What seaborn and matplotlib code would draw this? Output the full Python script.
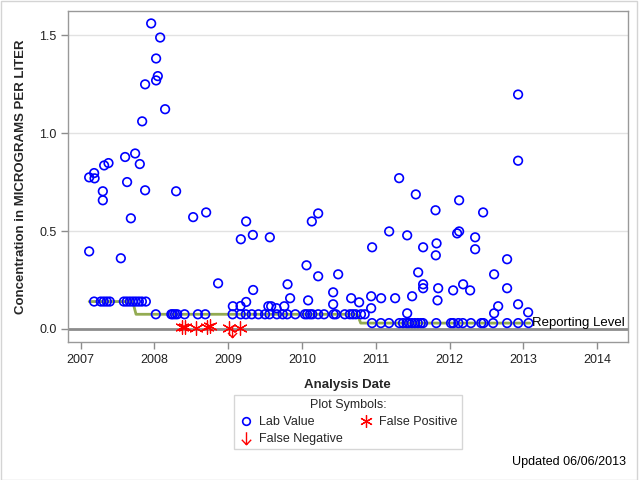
import numpy as np
import pandas as pd
import matplotlib
matplotlib.use("Agg")
import matplotlib.pyplot as plt
import seaborn as sns
from matplotlib.lines import Line2D
from matplotlib.patches import Rectangle
from matplotlib.path import Path

# detected lab values (decimal year, ug/L)
lab_dates = [2007.957, 2008.079, 2008.024, 2008.047, 2008.024, 2007.875, 2008.146, 2007.835,
             2007.740, 2007.604, 2007.803, 2007.379, 2007.320, 2007.184, 2007.117, 2007.190,
             2007.631, 2007.302, 2007.875, 2008.295, 2007.302, 2007.682, 2008.526, 2008.702,
             2009.244, 2009.335, 2009.172, 2007.117, 2007.546, 2008.864, 2009.339, 2009.244,
             2009.168, 2009.064,
             2009.565, 2010.134, 2010.220, 2011.317, 2011.543, 2011.810, 2011.182, 2011.426,
             2011.642, 2010.951, 2011.824, 2011.814, 2009.805, 2009.840, 2010.062, 2010.220,
             2010.491, 2010.084, 2010.423, 2010.423, 2010.667, 2010.775, 2010.938, 2010.938,
             2011.073, 2011.263, 2011.493, 2011.575, 2011.642, 2011.642, 2011.846, 2011.837,
             2011.426, 2009.545, 2009.583, 2009.656, 2009.761,
             2012.929, 2012.929, 2012.130, 2012.455, 2012.103, 2012.130, 2012.347, 2012.347,
             2012.780, 2012.604, 2012.780, 2012.049, 2012.184, 2012.279, 2012.659, 2012.604,
             2012.929, 2013.065]
lab_conc = [1.560, 1.488, 1.381, 1.291, 1.269, 1.249, 1.122, 1.060,
            0.896, 0.878, 0.842, 0.847, 0.835, 0.796, 0.774, 0.769,
            0.750, 0.703, 0.708, 0.703, 0.657, 0.565, 0.571, 0.595,
            0.549, 0.480, 0.458, 0.396, 0.361, 0.233, 0.199, 0.138,
            0.117, 0.116,
            0.468, 0.549, 0.590, 0.770, 0.687, 0.606, 0.498, 0.478,
            0.417, 0.417, 0.437, 0.376, 0.228, 0.157, 0.325, 0.269,
            0.279, 0.146, 0.187, 0.126, 0.157, 0.136, 0.167, 0.106,
            0.157, 0.157, 0.167, 0.289, 0.228, 0.208, 0.208, 0.146,
            0.080, 0.116, 0.116, 0.106, 0.116,
            1.197, 0.859, 0.657, 0.595, 0.488, 0.498, 0.468, 0.407,
            0.356, 0.279, 0.208, 0.197, 0.228, 0.197, 0.116, 0.080,
            0.126, 0.085]

# non-detects plotted at the reporting limit
nd_dates_a = [2007.184, 2007.274, 2007.315, 2007.356, 2007.396, 2007.587, 2007.627,
              2007.668, 2007.709, 2007.749, 2007.790, 2007.831, 2007.885]
nd_dates_b = [2008.02, 2008.23, 2008.25, 2008.28, 2008.31, 2008.41, 2008.59, 2008.69,
              2009.06, 2009.17, 2009.24, 2009.32, 2009.41, 2009.50, 2009.56, 2009.66,
              2009.74, 2009.80, 2009.91, 2010.04, 2010.07, 2010.11, 2010.14, 2010.22,
              2010.30, 2010.43, 2010.46, 2010.58, 2010.65, 2010.69, 2010.73, 2010.80,
              2010.85]
nd_dates_c = [2010.95, 2011.07, 2011.18, 2011.32, 2011.37, 2011.42, 2011.45, 2011.49,
              2011.53, 2011.57, 2011.61, 2011.64, 2011.82, 2012.02, 2012.05, 2012.12,
              2012.18, 2012.29, 2012.43, 2012.46, 2012.59, 2012.78, 2012.93, 2013.07]
nd_level_a, nd_level_b, nd_level_c = 0.14, 0.075, 0.03

# reporting limit step line
limit_dates = [2007.117, 2007.707, 2007.752, 2010.751, 2010.796, 2013.086]
limit_conc = [0.14, 0.14, 0.075, 0.075, 0.03, 0.03]

# false positives / false negatives
fp_dates = [2008.38, 2008.41, 2008.56, 2008.72, 2008.76, 2009.01, 2009.16]
fp_conc = [0.01, 0.01, 0.003, 0.01, 0.015, 0.003, 0.006]
fn_dates = [2009.06]
fn_conc = [-0.014]

year_ticks = [2007, 2008, 2009, 2010, 2011, 2012, 2013, 2014]
conc_ticks = [0.0, 0.5, 1.0, 1.5]

sns.set_theme(style="white")
plt.rcParams['font.family'] = ['Liberation Sans', 'DejaVu Sans']

lab = pd.DataFrame({
    'date': lab_dates + nd_dates_a + nd_dates_b + nd_dates_c,
    'conc': lab_conc + [nd_level_a] * len(nd_dates_a) + [nd_level_b] * len(nd_dates_b)
            + [nd_level_c] * len(nd_dates_c)})

# thin down arrow marker (open V head)
arrow = Path([(0, 1), (0, -1), (-0.75, -0.2), (0, -1), (0.75, -0.2)],
             [Path.MOVETO, Path.LINETO, Path.MOVETO, Path.LINETO, Path.LINETO])

fig = plt.figure(figsize=(6.4, 4.8), dpi=100)
ax = fig.add_axes([0.106, 0.2865, 0.875, 0.690])

ax.axhline(0, color='#8c8c8c', lw=2, zorder=1)
for t in conc_ticks[1:]:
    ax.axhline(t, color='#e2e2e2', lw=1, zorder=0)

sns.lineplot(x=limit_dates, y=limit_conc, sort=False, estimator=None, color='#93ab52',
             lw=2, ax=ax, zorder=2)
sns.scatterplot(data=lab, x='date', y='conc', marker='o', s=38, facecolor='none',
                edgecolor='#0000ff', linewidth=1.2, ax=ax, zorder=3)
sns.scatterplot(x=fp_dates, y=fp_conc, marker=(6, 2, 0), s=95, color='red',
                edgecolor='red', linewidth=0.9, ax=ax, zorder=4)
sns.scatterplot(x=fn_dates, y=fn_conc, marker=arrow, s=75, facecolor='none',
                edgecolor='red', linewidth=1.0, ax=ax, zorder=4)

ax.text(2013.12, 0.032, 'Reporting Level', fontsize=9.5, va='center', ha='left',
        color='black', zorder=5)

ax.set_xlim(2006.828, 2014.416)
ax.set_ylim(-0.069, 1.622)
ax.set_xticks(year_ticks)
ax.set_xticklabels([str(y) for y in year_ticks])
ax.set_yticks(conc_ticks)
ax.set_yticklabels(['%.1f' % t for t in conc_ticks])
ax.tick_params(axis='both', direction='out', length=5, width=1, color='#8c8c8c',
               labelsize=9, labelcolor='#222222', bottom=True, left=True, pad=3)
for sp in ax.spines.values():
    sp.set_color('#999999')
    sp.set_linewidth(1)

ax.set_xlabel('Analysis Date', fontsize=9.5, fontweight='bold', labelpad=10)
ax.set_ylabel('Concentration in MICROGRAMS PER LITER', fontsize=9.5,
              fontweight='bold', labelpad=9)

handles = [
    Line2D([], [], ls='none', marker='o', markersize=5.5, markerfacecolor='none',
           markeredgecolor='#0000ff', markeredgewidth=1.2, label='Lab Value'),
    Line2D([], [], ls='none', marker=arrow, markersize=9, markerfacecolor='none',
           markeredgecolor='red', markeredgewidth=1.0, label='False Negative'),
    Line2D([], [], ls='none', marker=(6, 2, 0), markersize=9, color='red',
           markeredgecolor='red', markeredgewidth=0.9, label='False Positive'),
]
leg = fig.legend(handles=handles, ncol=2, title='Plot Symbols:', loc='center',
                 bbox_to_anchor=(348 / 640, 1 - 422 / 480), fontsize=9,
                 title_fontsize=9, frameon=True, fancybox=False, edgecolor='#cccccc',
                 borderpad=0.3, handletextpad=0.5, columnspacing=1.2, labelspacing=0.4,
                 handlelength=1.2)
leg.get_frame().set_linewidth(1)

fig.text(626 / 640, 1 - 462 / 480, 'Updated 06/06/2013', fontsize=9, ha='right',
         va='center', color='black')

fig.add_artist(Rectangle((0.5 / 640, 0.5 / 480), 636 / 640, 478.5 / 480,
                         transform=fig.transFigure, fill=False, ec='#d4d4d4', lw=1))

fig.savefig('out.png', dpi=100)
